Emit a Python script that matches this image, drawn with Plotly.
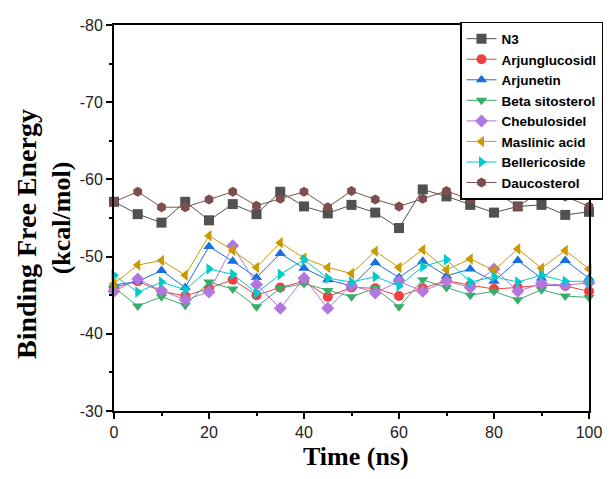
import plotly.graph_objects as go

time_ns = [0, 5, 10, 15, 20, 25, 30, 35, 40, 45, 50, 55, 60, 65, 70, 75, 80, 85, 90, 95, 100]

n3 = [-57.1, -55.5, -54.4, -57.1, -54.7, -56.8, -55.5, -58.4, -56.5, -55.6, -56.7,
      -55.7, -53.7, -58.7, -57.8, -56.7, -55.7, -56.5, -56.7, -55.4, -55.8]
arjunglucosidl = [-46.0, -46.8, -45.5, -44.9, -45.9, -47.0, -45.0, -46.0, -46.8, -44.8, -46.0,
                  -45.9, -44.9, -45.9, -46.9, -46.3, -45.8, -46.0, -46.3, -46.2, -45.5]
arjunetin = [-46.3, -46.8, -48.2, -46.0, -51.3, -49.4, -47.3, -50.4, -48.5, -47.0, -46.2,
             -49.2, -47.3, -49.4, -47.5, -48.4, -46.8, -49.5, -47.2, -49.5, -47.2]
beta_sitosterol = [-46.0, -43.6, -44.8, -43.7, -46.7, -45.8, -43.5, -45.9, -46.5, -45.6, -44.8,
                   -45.9, -43.5, -47.0, -46.0, -45.0, -45.5, -44.4, -45.7, -44.9, -44.7]
chebulosidel = [-45.5, -47.1, -45.6, -44.4, -45.4, -51.4, -46.4, -43.3, -47.2, -43.3, -46.3,
                -45.3, -46.8, -45.5, -46.8, -46.0, -48.4, -45.5, -46.5, -46.3, -46.6]
maslinic_acid = [-46.5, -48.9, -49.5, -47.6, -52.7, -50.8, -48.6, -51.8, -49.8, -48.6, -47.8,
                 -50.7, -48.6, -50.9, -48.3, -49.7, -48.2, -51.0, -48.5, -50.8, -48.4]
bellericoside = [-47.6, -45.4, -46.7, -45.7, -48.4, -47.7, -45.3, -47.7, -49.6, -47.2, -46.7,
                 -47.4, -46.2, -48.7, -49.6, -46.7, -47.4, -46.7, -47.6, -46.8, -46.8]
daucosterol = [-57.1, -58.4, -56.4, -56.4, -57.4, -58.4, -56.6, -57.5, -58.4, -56.4, -58.5,
               -57.4, -56.5, -57.5, -58.5, -57.4, -58.5, -56.5, -58.5, -57.8, -56.5]

series_names = ["N3", "Arjunglucosidl", "Arjunetin", "Beta sitosterol", "Chebulosidel",
                "Maslinic acid", "Bellericoside", "Daucosterol"]
series_values = [n3, arjunglucosidl, arjunetin, beta_sitosterol, chebulosidel,
                 maslinic_acid, bellericoside, daucosterol]
colors = ["#515151", "#F14040", "#1A6FDF", "#37AD6B", "#B177DE", "#CC9900", "#00CBCC", "#7D4E4E"]
symbols = ["square", "circle", "triangle-up", "triangle-down", "diamond",
           "triangle-left", "triangle-right", "hexagon"]

x_tickvals = [0, 20, 40, 60, 80, 100]
x_ticktext = ["0", "20", "40", "60", "80", "100"]
y_tickvals = [-80, -70, -60, -50, -40, -30]
y_ticktext = ["-80", "-70", "-60", "-50", "-40", "-30"]

fig = go.Figure()
for name, vals, c, s in zip(series_names, series_values, colors, symbols):
    fig.add_trace(go.Scatter(
        x=time_ns, y=vals, name=name, mode="lines+markers",
        line=dict(color=c, width=1),
        marker=dict(symbol=s, size=10, color=c, line=dict(width=0)),
        cliponaxis=False,
    ))

title_font = dict(family="Liberation Serif", size=26, color="black")
axis_font = dict(family="Liberation Sans", size=16, color="#222222")

# plot area: 475 x 386 px, top-left at page (114, 25)
fig.add_annotation(text="<b>Binding Free Energy</b>", textangle=-90, showarrow=False,
                   xref="paper", yref="paper", x=(27 - 114) / 475, y=(411 - 234) / 386,
                   xanchor="center", yanchor="middle",
                   font=dict(family="Liberation Serif", size=28, color="black"))
fig.add_annotation(text="<b>Time (ns)</b>", showarrow=False,
                   xref="paper", yref="paper", x=(356 - 114) / 475, y=(411 - 456) / 386,
                   xanchor="center", yanchor="middle", font=title_font)

fig.update_layout(
    width=603, height=463,
    margin=dict(l=106, r=22, t=17, b=60, autoexpand=False),
    paper_bgcolor="white", plot_bgcolor="white",
    showlegend=True,
    legend=dict(
        x=(603 - 114) / 475, xanchor="right", y=1.008, yanchor="top",
        bgcolor="white", bordercolor="black", borderwidth=1.5,
        font=dict(family="Liberation Sans", size=13.5, color="black", weight="bold"),
        tracegroupgap=0, itemwidth=30,
    ),
    xaxis=dict(
        range=[0, 100], tickmode="array", tickvals=x_tickvals, ticktext=x_ticktext,
        ticks="outside", ticklen=6, tickwidth=2, tickcolor="black",
        showline=True, linecolor="black", linewidth=2, mirror=True,
        showgrid=False, zeroline=False, tickfont=axis_font, ticklabeloverflow="allow",
        minor=dict(tickvals=[10, 30, 50, 70, 90], ticks="outside", ticklen=3, tickwidth=1.5, tickcolor="black"),
    ),
    yaxis=dict(
        range=[-30, -80], tickmode="array", tickvals=y_tickvals, ticktext=y_ticktext,
        ticks="outside", ticklen=6, tickwidth=2, tickcolor="black",
        showline=True, linecolor="black", linewidth=2, mirror=True,
        showgrid=False, zeroline=False, tickfont=axis_font,
        minor=dict(tickvals=[-75, -65, -55, -45, -35], ticks="outside", ticklen=3, tickwidth=1.5, tickcolor="black"),
        title=dict(text="<b>(kcal/mol)</b>", font=title_font, standoff=2),
    ),
)

fig.write_html("out.html")
